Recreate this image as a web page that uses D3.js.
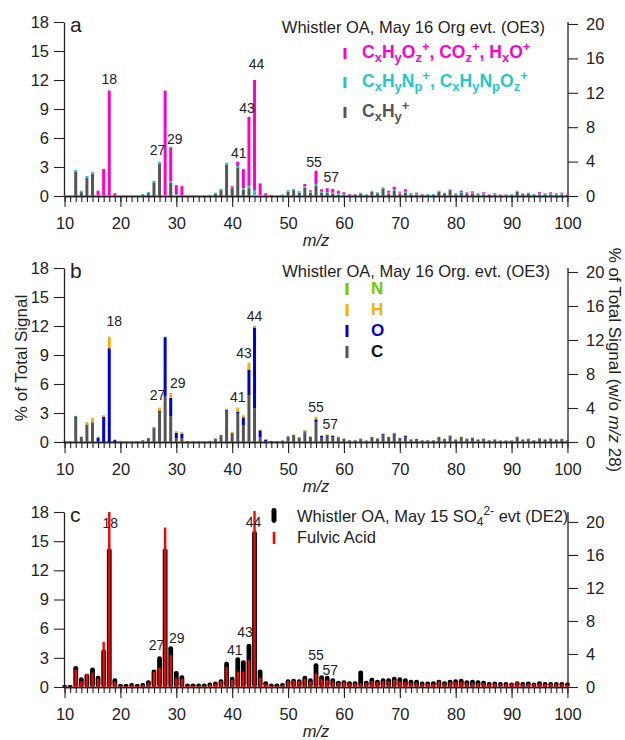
<!DOCTYPE html>
<html><head><meta charset="utf-8">
<script src="https://cdn.jsdelivr.net/npm/d3@7"></script>
<style>
body{margin:0;background:#fff}
svg{display:block}
text{font-family:"Liberation Sans",Arial,Helvetica,sans-serif;fill:#222}
</style>
</head><body>
<svg id="chart" width="625" height="740"></svg>
<script>
// ---------- DATA (m/z 10 .. 100) ----------
const mz = d3.range(10, 101);
// panel a: ion families (% of total signal)
const famHC = [0,0,2.5,0.4,1.9,2.3,0,0,0,0, 0,0.02,0.02,0.02,0.1,0.3,1.4,3.35,0,1.35,
  0,0,0,0.02,0.02,0.02,0.07,0.25,0.6,3.25, 0.85,2.9,0.65,0.8,0,0,0,0,0.02,0.08,
  0.45,0.6,0.35,0.85,0.35,1.1,0.35,0.3,0.25,0.15, 0.1,0.1,0.1,0.25,0.1,0.45,0.28,0.78,0.25,0.55,
  0.25,0.35,0.12,0.17,0.1,0.12,0.12,0.45,0.27,0.6, 0.17,0.3,0.22,0.27,0.17,0.17,0.1,0.12,0.08,0.08,
  0.1,0.45,0.19,0.27,0.12,0.17,0.17,0.17,0.17,0.17, 0.1];
const famN = [0.05,0.05,0.2,0.15,0.17,0.2,0.05,0.05,0.05,0.05, 0.05,0.03,0.05,0.05,0.1,0.12,0.18,0.2,0.1,0.2,
  0.2,0.05,0.05,0.05,0.05,0.05,0.05,0.1,0.12,0.2, 0.1,0.2,0.15,0.25,0.6,0.1,0.05,0.03,0.05,0.07,
  0.15,0.15,0.1,0.15,0.1,0.15,0.1,0.1,0.1,0.1, 0.1,0.05,0.05,0.1,0.07,0.1,0.1,0.12,0.1,0.1,
  0.1,0.1,0.06,0.08,0.05,0.08,0.08,0.1,0.08,0.1, 0.06,0.1,0.06,0.08,0.06,0.08,0.05,0.06,0.05,0.05,
  0.07,0.1,0.06,0.08,0.06,0.08,0.06,0.08,0.06,0.08, 0.05];
const famO = [0,0,0,0,0,0,0.5,2.75,10.85,0.23, 0.02,0,0,0,0,0,0,0,10.8,3.5,
  0.92,0.97,0.03,0,0,0,0,0,0,0, 0.1,0.45,1.98,7.15,11.4,1.2,0.23,0.09,0,0,
  0,0,0.05,0.24,0.15,1.37,0.25,0.4,0.37,0.3, 0.18,0.07,0.05,0,0,0,0,0,0.2,0.32,
  0.1,0.25,0.1,0.1,0.05,0,0,0,0,0, 0.05,0.15,0.1,0.13,0.05,0.13,0.05,0.1,0.04,0.04,
  0,0,0.03,0,0.02,0.15,0.05,0.13,0.05,0.1, 0.05];
// panel b: elemental contributions
const elC = [0.02,0.02,2.5,0.4,1.7,1.95,0.05,0.02,0,0, 0,0.02,0.02,0.02,0.12,0.32,1.4,3.1,4.7,2.65,
  0.4,0.42,0.02,0.02,0.02,0.02,0.08,0.3,0.62,3.2, 0.88,3.0,1.75,4.8,3.5,0.5,0.05,0.03,0.02,0.1,
  0.5,0.62,0.4,1.0,0.45,2.05,0.5,0.55,0.5,0.38, 0.25,0.15,0.14,0.28,0.12,0.45,0.3,0.75,0.42,0.75,
  0.35,0.52,0.2,0.26,0.15,0.15,0.15,0.45,0.28,0.58, 0.21,0.42,0.29,0.36,0.21,0.28,0.15,0.21,0.12,0.12,
  0.13,0.47,0.22,0.29,0.15,0.3,0.21,0.28,0.21,0.26, 0.15];
const elO = [0.03,0.03,0.15,0.1,0.1,0.08,0.42,2.6,9.7,0.2, 0.05,0.02,0.03,0.03,0.05,0.07,0.08,0.1,6.15,1.9,
  0.55,0.45,0.05,0.03,0.03,0.03,0.03,0.04,0.07,0.1, 0.07,0.15,0.8,2.7,8.35,0.7,0.2,0.07,0.04,0.04,
  0.07,0.08,0.06,0.1,0.08,0.3,0.12,0.15,0.15,0.1, 0.08,0.04,0.04,0.04,0.03,0.06,0.05,0.08,0.08,0.13,
  0.06,0.1,0.05,0.05,0.03,0.03,0.03,0.06,0.04,0.07, 0.04,0.08,0.05,0.07,0.04,0.06,0.03,0.04,0.03,0.03,
  0.02,0.05,0.03,0.03,0.03,0.06,0.04,0.06,0.04,0.05, 0.03];
const elH = [0,0,0,0.03,0.22,0.42,0.03,0.15,1.17,0.05, 0.01,0,0,0,0,0.02,0.08,0.3,0,0.4,
  0.1,0.12,0,0.01,0.01,0.01,0,0,0.02,0.12, 0.08,0.33,0.2,0.65,0.08,0.07,0.02,0.01,0,0,
  0.02,0.04,0.03,0.1,0.05,0.2,0.06,0.08,0.06,0.05, 0.04,0.02,0.01,0.02,0.01,0.03,0.02,0.05,0.04,0.07,
  0.03,0.06,0.02,0.03,0.01,0.01,0.01,0.03,0.02,0.04, 0.02,0.04,0.03,0.04,0.02,0.03,0.01,0.02,0.01,0.01,
  0.01,0.02,0.02,0.02,0.01,0.03,0.02,0.03,0.02,0.03, 0.01];
const elN = [0,0,0.05,0.02,0.05,0.05,0.05,0.03,0.03,0.03, 0.01,0.01,0.02,0.02,0.03,0.01,0.02,0.05,0.05,0.1,
  0.07,0.03,0.01,0.01,0.01,0.01,0.01,0.01,0.01,0.03, 0.02,0.07,0.03,0.05,0.07,0.03,0.01,0.01,0.01,0.01,
  0.01,0.01,0.01,0.04,0.02,0.07,0.02,0.02,0.01,0.02, 0.01,0.01,0.01,0.01,0.01,0.01,0.01,0.02,0.01,0.02,
  0.01,0.02,0.01,0.01,0.01,0.01,0.01,0.01,0.01,0.01, 0.01,0.01,0.01,0.01,0.01,0.01,0.01,0.01,0.01,0.01,
  0.01,0.01,0.01,0.01,0.01,0.01,0.01,0.01,0.01,0.01, 0.01];
// panel c: DE2 event vs fulvic acid
const de2 = [0.05,0.05,2.0,0.85,1.2,1.85,1.0,3.7,14.1,0.75, 0.15,0.15,0.25,0.15,0.25,0.55,1.65,3.0,14.1,4.05,
  1.5,1.05,0.2,0.2,0.2,0.2,0.3,0.4,0.65,2.45, 0.9,2.9,2.6,4.3,15.9,1.65,0.45,0.2,0.2,0.25,
  0.65,0.7,0.65,1.0,0.75,2.3,1.05,1.0,0.75,0.5, 0.55,0.45,0.45,1.55,0.5,0.8,0.6,0.75,0.75,0.9,
  0.85,0.75,0.6,0.6,0.4,0.4,0.45,0.6,0.45,0.6, 0.65,0.7,0.55,0.6,0.55,0.5,0.35,0.4,0.35,0.35,
  0.3,0.45,0.35,0.4,0.3,0.45,0.35,0.35,0.35,0.35, 0.3];
const fulvic = [0.03,0.03,1.8,0.6,1.35,1.5,0.85,4.65,18.0,0.5, 0.1,0.1,0.2,0.12,0.2,0.45,1.55,2.0,16.4,3.3,
  0.9,0.85,0.15,0.15,0.15,0.15,0.25,0.35,0.6,2.05, 0.75,1.6,1.6,2.75,18.1,0.95,0.3,0.15,0.15,0.2,
  0.6,0.65,0.6,0.85,0.6,1.4,0.8,0.7,0.6,0.45, 0.5,0.4,0.4,0.4,0.45,0.6,0.5,0.6,0.6,0.75,
  0.6,0.55,0.45,0.45,0.35,0.35,0.35,0.6,0.4,0.5, 0.5,0.5,0.45,0.45,0.4,0.4,0.3,0.35,0.3,0.3,
  0.3,0.5,0.3,0.35,0.3,0.4,0.3,0.35,0.3,0.3, 0.25];
const leftTicks = [0, 3, 6, 9, 12, 15, 18];
const rightTicks = [0, 4, 8, 12, 16, 20];
const xMajor = [10, 20, 30, 40, 50, 60, 70, 80, 90, 100];
const peaks = [18, 27, 29, 41, 43, 44, 55, 57];

// ---------- LAYOUT ----------
const svg = d3.select('#chart');
const x = d3.scaleLinear().domain([9.9, 100.1]).range([64, 568]);
const panels = [
  {top: 22, bottom: 196, rMax: 20.23, letter: 'a'},
  {top: 268, bottom: 442, rMax: 20.47, letter: 'b'},
  {top: 512, bottom: 687, rMax: 21.2, letter: 'c'}
];
const FS = 16.5;
panels.forEach(p => {
  p.y = d3.scaleLinear().domain([0, 18]).range([p.bottom, p.top]);
  p.yr = d3.scaleLinear().domain([0, p.rMax]).range([p.bottom, p.top]);
});

function styleAxis(g) {
  g.selectAll('path.domain').attr('stroke', '#222').attr('stroke-width', 1.3);
  g.selectAll('.tick line').attr('stroke', '#222').attr('stroke-width', 1.1);
  g.selectAll('.tick text').attr('font-size', FS).attr('fill', '#222')
    .style('font-family', '"Liberation Sans",Arial,sans-serif');
}

panels.forEach((p, pi) => {
  const g = svg.append('g');
  const la = g.append('g').attr('transform', 'translate(64,0)')
    .call(d3.axisLeft(p.y).tickValues(leftTicks).tickSize(10).tickPadding(5).tickSizeOuter(0));
  styleAxis(la);
  const ra = g.append('g').attr('transform', 'translate(568,0)')
    .call(d3.axisRight(p.yr).tickValues(rightTicks).tickSize(10).tickPadding(8).tickSizeOuter(0));
  styleAxis(ra);
  ra.select('path.domain').attr('d', `M0,${p.top}V${p.bottom}`);
  const xm = g.append('g').attr('transform', `translate(0,${p.bottom})`)
    .call(d3.axisBottom(x).tickValues(mz).tickSize(6).tickFormat('').tickSizeOuter(0));
  styleAxis(xm);
  const xa = g.append('g').attr('transform', `translate(0,${p.bottom})`)
    .call(d3.axisBottom(x).tickValues(xMajor).tickSize(11).tickPadding(10).tickSizeOuter(0));
  styleAxis(xa);
  g.append('text').attr('x', 316).attr('y', p.bottom + 50).attr('text-anchor', 'middle')
    .attr('font-size', FS).attr('font-style', 'italic').text('m/z');
  g.append('text').attr('x', 70).attr('y', p.top + 10).attr('font-size', 21).text(p.letter);
});

// ---------- PANEL A ----------
const pA = panels[0];
const famKeys = ['hc', 'n', 'o'];
const famCol = {hc: '#555555', n: '#1cc8c8', o: '#ff00cc'};
const famRows = mz.map((m, i) => ({m, hc: famHC[i], n: famN[i], o: famO[i]}));
const famStack = d3.stack().keys(famKeys)(famRows);
const gA = svg.append('g');
famStack.forEach(s => {
  gA.selectAll(null).data(s).join('rect')
    .attr('x', d => x(d.data.m) - 1.5).attr('width', 3)
    .attr('y', d => pA.y(d[1])).attr('height', d => Math.max(0, pA.y(d[0]) - pA.y(d[1])))
    .attr('fill', famCol[s.key]);
});

// ---------- PANEL B ----------
const pB = panels[1];
const elKeys = ['C', 'O', 'H', 'N'];
const elCol = {C: '#555555', O: '#0000d0', H: '#ffaa00', N: '#66cc00'};
const elRows = mz.map((m, i) => ({m, C: elC[i], O: elO[i], H: elH[i], N: elN[i]}));
const elStack = d3.stack().keys(elKeys)(elRows);
const gB = svg.append('g');
elStack.forEach(s => {
  gB.selectAll(null).data(s).join('rect')
    .attr('x', d => x(d.data.m) - 1.5).attr('width', 3)
    .attr('y', d => pB.y(d[1])).attr('height', d => Math.max(0, pB.y(d[0]) - pB.y(d[1])))
    .attr('fill', elCol[s.key]);
});

// ---------- PANEL C ----------
const pC = panels[2];
const gC = svg.append('g');
gC.selectAll(null).data(mz).join('rect')
  .attr('x', (m) => x(m) - 2.4).attr('width', 4.8)
  .attr('y', (m, i) => pC.y(de2[i]) - 1.5).attr('height', (m, i) => pC.bottom - pC.y(de2[i]) + 1.5)
  .attr('rx', 2.2).attr('fill', '#000');
gC.selectAll(null).data(mz).join('rect')
  .attr('x', (m) => x(m) - 1.2).attr('width', 2.4)
  .attr('y', (m, i) => pC.y(fulvic[i])).attr('height', (m, i) => pC.bottom - pC.y(fulvic[i]))
  .attr('fill', '#ff0000');

// ---------- PEAK LABELS ----------
const totA = mz.map((m, i) => famHC[i] + famN[i] + famO[i]);
const totB = mz.map((m, i) => elC[i] + elO[i] + elH[i] + elN[i]);
const offA = {18: [0, -7], 27: [-2, -7], 29: [4, -3], 41: [1, -4], 43: [-2, -4], 44: [2, -11], 55: [-2, -4], 57: [4, -6]};
const offB = {18: [5, -11], 27: [-2, -8], 29: [7, -5], 41: [0, -6], 43: [-5, -5], 44: [0, -5], 55: [0, -5], 57: [3, -5]};
const offC = {18: [1, -22], 27: [-3, -8], 29: [6, -5], 41: [-3, -4], 43: [-4, -8], 44: [-1, -5], 55: [0, -5], 57: [3, -2]};
function peakLabels(p, tot, off) {
  svg.append('g').selectAll(null).data(peaks).join('text')
    .attr('x', m => x(m) + off[m][0])
    .attr('y', m => p.y(tot[m - 10]) + off[m][1])
    .attr('text-anchor', 'middle').attr('font-size', 14).text(m => m);
}
peakLabels(pA, totA, offA);
peakLabels(pB, totB, offB);
peakLabels(pC, de2, offC);

// ---------- LEGENDS ----------
function rich(x0, y0, parts, attrs, subSize) {
  const t = svg.append('text').attr('x', x0).attr('y', y0);
  Object.entries(attrs).forEach(([k, v]) => t.attr(k, v));
  let cur = 0;
  parts.forEach(p => {
    const target = p[1] === 'sub' ? 4 : p[1] === 'sup' ? -7 : 0;
    const ts = t.append('tspan').attr('dy', target - cur).text(p[0]);
    if (p[1]) ts.attr('font-size', subSize);
    if (p[2]) ts.attr('dx', p[2]);
    cur = target;
  });
  return t;
}
// panel a legend
svg.append('text').attr('x', 545).attr('y', 33).attr('text-anchor', 'end').attr('font-size', FS)
  .text('Whistler OA, May 16 Org evt. (OE3)');
const legA = [
  {col: famCol.o, y: 58, parts: [['C'], ['x', 'sub'], ['H'], ['y', 'sub'], ['O'], ['z', 'sub'], ['+', 'sup'], [', CO'], ['z', 'sub'], ['+', 'sup'], [', H'], ['x', 'sub'], ['O'], ['+', 'sup']]},
  {col: famCol.n, y: 87, parts: [['C'], ['x', 'sub'], ['H'], ['y', 'sub'], ['N'], ['p', 'sub'], ['+', 'sup'], [', C'], ['x', 'sub'], ['H'], ['y', 'sub'], ['N'], ['p', 'sub'], ['O'], ['z', 'sub'], ['+', 'sup']]},
  {col: famCol.hc, y: 117, parts: [['C'], ['x', 'sub'], ['H'], ['y', 'sub'], ['+', 'sup']]}
];
legA.forEach(l => {
  svg.append('rect').attr('x', 343.5).attr('y', l.y - 10).attr('width', 3).attr('height', 11).attr('fill', l.col);
  rich(362, l.y, l.parts, {'font-size': 17.5, 'font-weight': 'bold', 'style': `fill:${l.col}`}, 13);
});
// panel b legend
svg.append('text').attr('x', 550).attr('y', 277).attr('text-anchor', 'end').attr('font-size', FS)
  .text('Whistler OA, May 16 Org. evt. (OE3)');
const legB = [['N', 294], ['H', 315], ['O', 336], ['C', 357]];
legB.forEach(([k, yy]) => {
  svg.append('rect').attr('x', 345.5).attr('y', yy - 11).attr('width', 3).attr('height', 12).attr('fill', elCol[k]);
  svg.append('text').attr('x', 371).attr('y', yy).attr('font-size', 17).attr('font-weight', 'bold')
    .style('fill', k === 'C' ? '#111' : elCol[k]).text(k);
});
// panel c legend
svg.append('rect').attr('x', 271.5).attr('y', 508).attr('width', 5).attr('height', 15).attr('rx', 2.4).attr('fill', '#000');
svg.append('rect').attr('x', 272.7).attr('y', 532).attr('width', 2.6).attr('height', 12).attr('fill', '#ff0000');
rich(297, 522, [['Whistler OA, May 15 SO'], ['4', 'sub'], ['2-', 'sup'], [' evt (DE2)']], {'font-size': FS}, 12);
svg.append('text').attr('x', 297).attr('y', 543).attr('font-size', FS).text('Fulvic Acid');

// ---------- AXIS TITLES ----------
svg.append('text').attr('transform', 'translate(27,358) rotate(-90)').attr('text-anchor', 'middle')
  .attr('font-size', 17).text('% of Total Signal');
const rt = svg.append('text').attr('transform', 'translate(609,360) rotate(90)').attr('text-anchor', 'middle')
  .attr('font-size', 17);
rt.append('tspan').text('% of Total Signal (w/o ');
rt.append('tspan').attr('font-style', 'italic').text('m/z');
rt.append('tspan').text(' 28)');
</script>
</body></html>
